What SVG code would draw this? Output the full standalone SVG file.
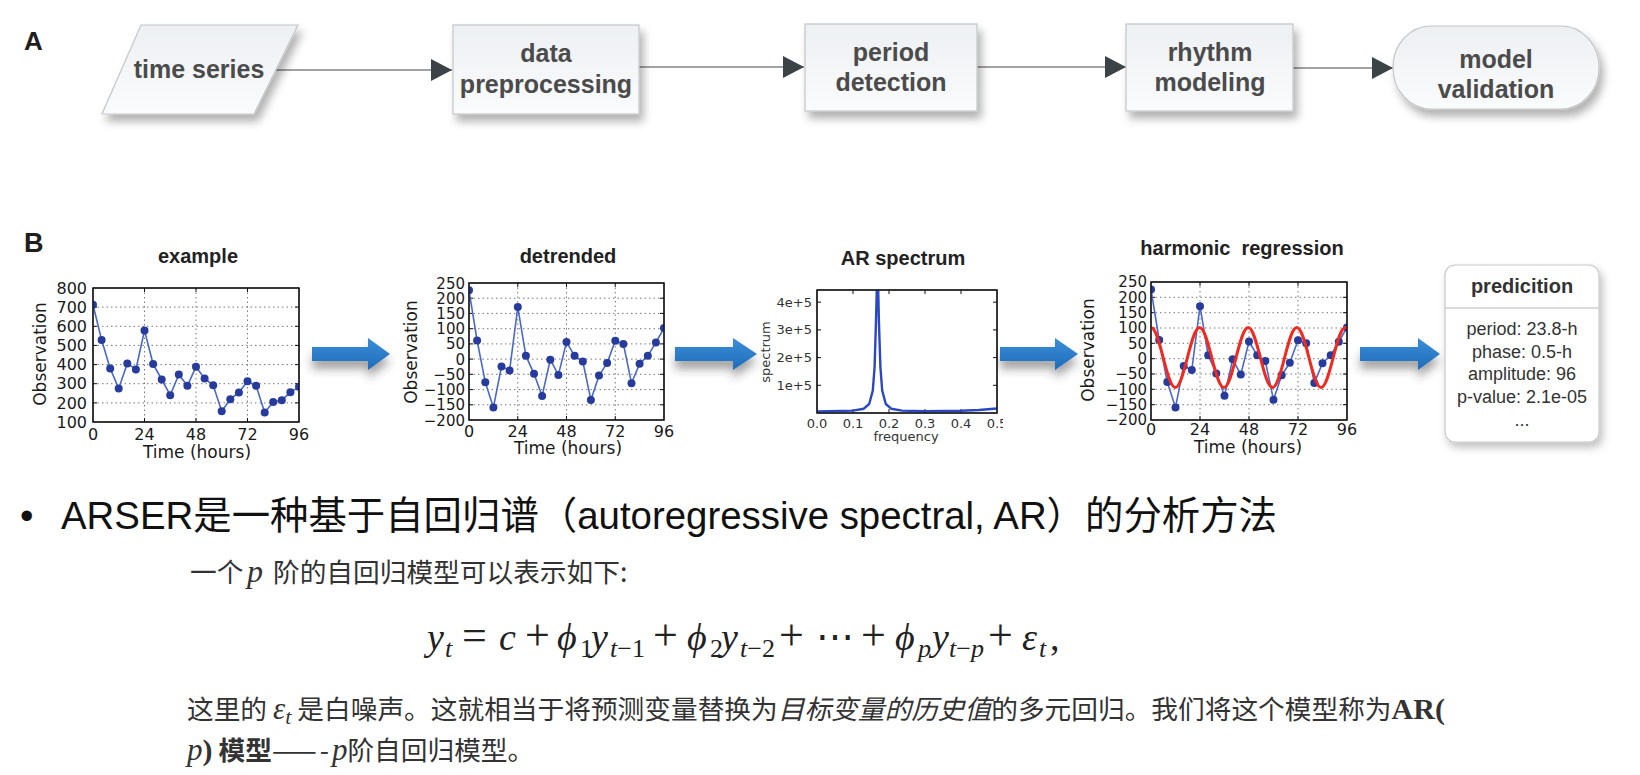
<svg xmlns="http://www.w3.org/2000/svg" width="1640" height="775" viewBox="0 0 1640 775">
<defs>
<style>
.nb{fill:url(#gBox);stroke:#c4c6c8;stroke-width:1.2;filter:url(#fShadow)}
.nl{font-family:"Liberation Sans",Arial,sans-serif;font-weight:bold;font-size:25px;fill:#4b4b4b;text-anchor:middle}
.pl{font-family:"Liberation Sans",Arial,sans-serif;font-weight:bold;fill:#1e1e1e}
.cn{fill:none;stroke:#a2a2a2;stroke-width:2;marker-end:url(#mHead)}
.ba{fill:url(#gBlue);filter:url(#fArrow)}
.fr{fill:#fff;stroke:#111;stroke-width:1.2}
.fo{fill:none;stroke:#111;stroke-width:1.2}
.gd{fill:none;stroke:#555;stroke-width:0.8;stroke-dasharray:1.5 3}
.tk{fill:none;stroke:#111;stroke-width:1}
.tl{font-family:"DejaVu Sans",sans-serif;font-size:16px;fill:#1a1a1a}
.tn{font-size:15px}
.te{text-anchor:end}
.tm{text-anchor:middle}
.al{font-family:"DejaVu Sans",sans-serif;font-size:17px;fill:#1a1a1a;text-anchor:middle}
.ts{font-family:"DejaVu Sans",sans-serif;font-size:13px;fill:#333}
.ct{font-family:"Liberation Sans",Arial,sans-serif;font-weight:bold;font-size:20px;fill:#222;text-anchor:middle}
.dl{fill:none;stroke:#4a68cc;stroke-width:1.6;stroke-linejoin:round}
.pt circle{fill:#273b9c}
.fit{fill:none;stroke:#f02a1e;stroke-width:3}
.sp{fill:none;stroke:#2b47c2;stroke-width:2.4;stroke-linejoin:round}
.pb{fill:#fff;stroke:#c8c8c8;stroke-width:1.2;filter:url(#fShadow2)}
.ph{font-family:"Liberation Sans",Arial,sans-serif;font-weight:bold;font-size:20px;fill:#333;text-anchor:middle}
.pv{font-family:"Liberation Sans",Arial,sans-serif;font-size:18px;fill:#333;text-anchor:middle}
.bl{font-family:"Liberation Sans","Noto Sans CJK SC",sans-serif;font-size:38.4px;fill:#111}
.bd{font-family:"Noto Sans CJK SC","Liberation Sans",sans-serif;font-size:26.7px;fill:#333}
.mi{font-family:"Liberation Serif","DejaVu Serif",serif;font-style:italic}
.mr{font-family:"Liberation Serif","DejaVu Serif",serif}
.op{font-size:44px}
.eq{font-family:"Liberation Serif","DejaVu Serif",serif;font-size:38px;fill:#222}
.eqs{font-family:"Liberation Serif","DejaVu Serif",serif;font-size:26px;fill:#222}
</style>
<linearGradient id="gBox" x1="0" y1="0" x2="0" y2="1">
<stop offset="0" stop-color="#edf0f3"/>
<stop offset="1" stop-color="#fafbfc"/>
</linearGradient>
<linearGradient id="gBlue" x1="0" y1="0" x2="0" y2="1">
<stop offset="0" stop-color="#3a8ed8"/>
<stop offset="1" stop-color="#1f6cb9"/>
</linearGradient>
<filter id="fShadow" x="-20%" y="-20%" width="150%" height="170%">
<feDropShadow dx="4" dy="7" stdDeviation="4" flood-color="#000" flood-opacity="0.3"/>
</filter>
<filter id="fShadow2" x="-20%" y="-20%" width="150%" height="150%">
<feDropShadow dx="3" dy="5" stdDeviation="4" flood-color="#000" flood-opacity="0.25"/>
</filter>
<filter id="fArrow" x="-30%" y="-50%" width="160%" height="250%">
<feDropShadow dx="0" dy="8" stdDeviation="5" flood-color="#333" flood-opacity="0.45"/>
</filter>
<marker id="mHead" markerUnits="userSpaceOnUse" markerWidth="22" markerHeight="24" refX="21" refY="11" orient="auto">
<path d="M0,0 L21,11 L0,22 Z" fill="#3b4347"/>
</marker>
<clipPath id="c1"><rect x="93" y="288" width="206" height="134"/></clipPath>
<clipPath id="c2"><rect x="469" y="283" width="195" height="137"/></clipPath>
<clipPath id="c3"><rect x="817" y="290" width="180" height="123"/></clipPath>
<clipPath id="c4"><rect x="1151" y="282" width="196" height="138"/></clipPath>
<clipPath id="cX"><rect x="700" y="400" width="303" height="40"/></clipPath>
</defs>

<rect width="1640" height="775" fill="#fff"/>

<g id="panel-labels">
<text class="pl" x="24" y="50" font-size="26">A</text>
<text class="pl" x="24" y="252" font-size="27">B</text>
</g>

<g id="connectors">
<line class="cn" x1="276" y1="70" x2="452" y2="70"/>
<line class="cn" x1="639" y1="67" x2="804" y2="67"/>
<line class="cn" x1="977" y1="67" x2="1126" y2="67"/>
<line class="cn" x1="1293" y1="68" x2="1393" y2="68"/>
<path class="ba" d="M312,347 H368 V338 L390,354 L368,370 V361 H312 Z"/>
<path class="ba" d="M675,347 H733 V338 L757,354 L733,370 V361 H675 Z"/>
<path class="ba" d="M1000,347 H1055 V338 L1078,354 L1055,370 V361 H1000 Z"/>
<path class="ba" d="M1360,347 H1418 V338 L1440,354 L1418,370 V361 H1360 Z"/>
</g>

<g id="node-time-series">
<polygon class="nb" points="141,25 298,25 254,114 102,114"/>
<text class="nl" x="199" y="78">time series</text>
</g>
<g id="node-data-preprocessing">
<rect class="nb" x="453" y="25" width="186" height="89"/>
<text class="nl" x="546" y="62">data</text>
<text class="nl" x="546" y="93">preprocessing</text>
</g>
<g id="node-period-detection">
<rect class="nb" x="805" y="24" width="172" height="87"/>
<text class="nl" x="891" y="61">period</text>
<text class="nl" x="891" y="91">detection</text>
</g>
<g id="node-rhythm-modeling">
<rect class="nb" x="1126" y="24" width="167" height="87"/>
<text class="nl" x="1210" y="61">rhythm</text>
<text class="nl" x="1210" y="91">modeling</text>
</g>
<g id="node-model-validation">
<rect class="nb" x="1393" y="26" width="206" height="83" rx="38" ry="41"/>
<text class="nl" x="1496" y="68">model</text>
<text class="nl" x="1496" y="98">validation</text>
</g>

<g id="chart-example">
<text class="ct" x="198" y="263">example</text>
<rect class="fr" x="93" y="288" width="206" height="134"/>
<path class="gd" d="M93,307.1H299M93,326.3H299M93,345.4H299M93,364.6H299M93,383.7H299M93,402.9H299M144.5,288V422M196,288V422M247.5,288V422"/>
<path class="tk" d="M93,307.1h4M93,326.3h4M93,345.4h4M93,364.6h4M93,383.7h4M93,402.9h4M299,307.1h-4M299,326.3h-4M299,345.4h-4M299,364.6h-4M299,383.7h-4M299,402.9h-4M144.5,288v4M196,288v4M247.5,288v4M144.5,422v-4M196,422v-4M247.5,422v-4"/>
<g clip-path="url(#c1)">
<polyline class="dl" points="93,304.8 101.6,339.9 110.2,368.4 118.7,388.5 127.3,363.4 135.9,369.4 144.5,330.5 153.1,364 161.7,379.5 170.2,395.2 178.8,374.5 187.4,385.8 196,366.7 204.6,378.5 213.2,385.2 221.7,411.3 230.3,399.2 238.9,392.5 247.5,381.2 256.1,385.8 264.7,412.6 273.2,401.9 281.8,400.2 290.4,392.3 299,386.8"/>
<g class="pt">
<circle cx="93" cy="304.8" r="4"/><circle cx="101.6" cy="339.9" r="4"/><circle cx="110.2" cy="368.4" r="4"/><circle cx="118.7" cy="388.5" r="4"/><circle cx="127.3" cy="363.4" r="4"/><circle cx="135.9" cy="369.4" r="4"/><circle cx="144.5" cy="330.5" r="4"/><circle cx="153.1" cy="364" r="4"/><circle cx="161.7" cy="379.5" r="4"/><circle cx="170.2" cy="395.2" r="4"/><circle cx="178.8" cy="374.5" r="4"/><circle cx="187.4" cy="385.8" r="4"/><circle cx="196" cy="366.7" r="4"/><circle cx="204.6" cy="378.5" r="4"/><circle cx="213.2" cy="385.2" r="4"/><circle cx="221.7" cy="411.3" r="4"/><circle cx="230.3" cy="399.2" r="4"/><circle cx="238.9" cy="392.5" r="4"/><circle cx="247.5" cy="381.2" r="4"/><circle cx="256.1" cy="385.8" r="4"/><circle cx="264.7" cy="412.6" r="4"/><circle cx="273.2" cy="401.9" r="4"/><circle cx="281.8" cy="400.2" r="4"/><circle cx="290.4" cy="392.3" r="4"/><circle cx="299" cy="386.8" r="4"/>
</g>
</g>
<rect class="fo" x="93" y="288" width="206" height="134"/>
<text class="tl te" x="87" y="293.7">800</text>
<text class="tl te" x="87" y="312.8">700</text>
<text class="tl te" x="87" y="332">600</text>
<text class="tl te" x="87" y="351.1">500</text>
<text class="tl te" x="87" y="370.3">400</text>
<text class="tl te" x="87" y="389.4">300</text>
<text class="tl te" x="87" y="408.6">200</text>
<text class="tl te" x="87" y="427.7">100</text>
<text class="tl tm" x="93" y="440">0</text>
<text class="tl tm" x="144.5" y="440">24</text>
<text class="tl tm" x="196" y="440">48</text>
<text class="tl tm" x="247.5" y="440">72</text>
<text class="tl tm" x="299" y="440">96</text>
<text class="al" transform="translate(46,354) rotate(-90)">Observation</text>
<text class="al" x="197" y="458">Time (hours)</text>
</g>

<g id="chart-detrended">
<text class="ct" x="568" y="263">detrended</text>
<rect class="fr" x="469" y="283" width="195" height="137"/>
<path class="gd" d="M469,298.2H664M469,313.4H664M469,328.7H664M469,343.9H664M469,359.1H664M469,374.3H664M469,389.6H664M469,404.8H664M517.75,283V420M566.5,283V420M615.25,283V420"/>
<path class="tk" d="M469,298.2h4M469,313.4h4M469,328.7h4M469,343.9h4M469,359.1h4M469,374.3h4M469,389.6h4M469,404.8h4M664,298.2h-4M664,313.4h-4M664,328.7h-4M664,343.9h-4M664,359.1h-4M664,374.3h-4M664,389.6h-4M664,404.8h-4M517.75,283v4M566.5,283v4M615.25,283v4M517.75,420v-4M566.5,420v-4M615.25,420v-4"/>
<g clip-path="url(#c2)">
<polyline class="dl" points="469,290.3 477.1,340.5 485.3,382.2 493.4,407.5 501.5,366.4 509.6,370.4 517.8,307.1 525.9,355.8 534,373.7 542.1,395.9 550.3,359.7 558.4,374.9 566.5,342.1 574.6,355.8 582.8,361.5 590.9,399.9 599,375.6 607.1,363.1 615.3,340.8 623.4,343.9 631.5,383.2 639.6,363.7 647.8,355.8 655.9,342.4 664,328.1"/>
<g class="pt">
<circle cx="469" cy="290.3" r="4"/><circle cx="477.1" cy="340.5" r="4"/><circle cx="485.3" cy="382.2" r="4"/><circle cx="493.4" cy="407.5" r="4"/><circle cx="501.5" cy="366.4" r="4"/><circle cx="509.6" cy="370.4" r="4"/><circle cx="517.8" cy="307.1" r="4"/><circle cx="525.9" cy="355.8" r="4"/><circle cx="534" cy="373.7" r="4"/><circle cx="542.1" cy="395.9" r="4"/><circle cx="550.3" cy="359.7" r="4"/><circle cx="558.4" cy="374.9" r="4"/><circle cx="566.5" cy="342.1" r="4"/><circle cx="574.6" cy="355.8" r="4"/><circle cx="582.8" cy="361.5" r="4"/><circle cx="590.9" cy="399.9" r="4"/><circle cx="599" cy="375.6" r="4"/><circle cx="607.1" cy="363.1" r="4"/><circle cx="615.3" cy="340.8" r="4"/><circle cx="623.4" cy="343.9" r="4"/><circle cx="631.5" cy="383.2" r="4"/><circle cx="639.6" cy="363.7" r="4"/><circle cx="647.8" cy="355.8" r="4"/><circle cx="655.9" cy="342.4" r="4"/><circle cx="664" cy="328.1" r="4"/>
</g>
</g>
<rect class="fo" x="469" y="283" width="195" height="137"/>
<text class="tl tn te" x="465" y="288.5">250</text>
<text class="tl tn te" x="465" y="303.7">200</text>
<text class="tl tn te" x="465" y="318.9">150</text>
<text class="tl tn te" x="465" y="334.2">100</text>
<text class="tl tn te" x="465" y="349.4">50</text>
<text class="tl tn te" x="465" y="364.6">0</text>
<text class="tl tn te" x="465" y="379.8">−50</text>
<text class="tl tn te" x="465" y="395.1">−100</text>
<text class="tl tn te" x="465" y="410.3">−150</text>
<text class="tl tn te" x="465" y="425.5">−200</text>
<text class="tl tm" x="469" y="437">0</text>
<text class="tl tm" x="517.75" y="437">24</text>
<text class="tl tm" x="566.5" y="437">48</text>
<text class="tl tm" x="615.25" y="437">72</text>
<text class="tl tm" x="664" y="437">96</text>
<text class="al" transform="translate(417,352) rotate(-90)">Observation</text>
<text class="al" x="568" y="454">Time (hours)</text>
</g>

<g id="chart-ar-spectrum">
<text class="ct" x="903" y="265">AR spectrum</text>
<rect class="fr" x="817" y="290" width="180" height="123"/>
<path class="tk" d="M817,302.2h4M817,329.9h4M817,357.6h4M817,385.3h4M997,302.2h-4M997,329.9h-4M997,357.6h-4M997,385.3h-4M853,290v4M889,290v4M925,290v4M961,290v4M853,413v-4M889,413v-4M925,413v-4M961,413v-4"/>
<g clip-path="url(#c3)">
<polyline class="sp" points="817,411.5 853,410.6 863.8,408.7 869.2,404 872.8,390.5 874.6,367 876,321 876.8,289.5 877.5,274.5 878.2,289.5 878.9,321 880.4,367 882.2,390.5 885.8,404 891.2,408.7 902,410.6 925,411.2 961,410.8 979,410 997,408.5"/>
</g>
<rect class="fo" x="817" y="290" width="180" height="123"/>
<text class="ts te" x="812" y="306.7">4e+5</text>
<text class="ts te" x="812" y="334.4">3e+5</text>
<text class="ts te" x="812" y="362.1">2e+5</text>
<text class="ts te" x="812" y="389.8">1e+5</text>
<text class="ts tm" x="817" y="428">0.0</text>
<text class="ts tm" x="853" y="428">0.1</text>
<text class="ts tm" x="889" y="428">0.2</text>
<text class="ts tm" x="925" y="428">0.3</text>
<text class="ts tm" x="961" y="428">0.4</text>
<text class="ts tm" x="997" y="428" clip-path="url(#cX)">0.5</text>
<text class="ts tm" transform="translate(770,352) rotate(-90)">spectrum</text>
<text class="ts tm" x="906" y="441">frequency</text>
</g>

<g id="chart-harmonic-regression">
<text class="ct" x="1242" y="255" xml:space="preserve">harmonic  regression</text>
<rect class="fr" x="1151" y="282" width="196" height="138"/>
<path class="gd" d="M1151,297.3H1347M1151,312.7H1347M1151,328H1347M1151,343.3H1347M1151,358.7H1347M1151,374H1347M1151,389.3H1347M1151,404.7H1347M1200,282V420M1249,282V420M1298,282V420"/>
<path class="tk" d="M1151,297.3h4M1151,312.7h4M1151,328h4M1151,343.3h4M1151,358.7h4M1151,374h4M1151,389.3h4M1151,404.7h4M1347,297.3h-4M1347,312.7h-4M1347,328h-4M1347,343.3h-4M1347,358.7h-4M1347,374h-4M1347,389.3h-4M1347,404.7h-4M1200,282v4M1249,282v4M1298,282v4M1200,420v-4M1249,420v-4M1298,420v-4"/>
<g clip-path="url(#c4)">
<polyline class="dl" points="1151,289.4 1159.2,340 1167.3,382 1175.5,407.4 1183.7,366 1191.8,370 1200,306.2 1208.2,355.3 1216.3,373.4 1224.5,395.8 1232.7,359.3 1240.8,374.6 1249,341.5 1257.2,355.3 1265.3,361.1 1273.5,399.8 1281.7,375.2 1289.8,362.7 1298,340.3 1306.2,343.3 1314.3,382.9 1322.5,363.3 1330.7,355.3 1338.8,341.8 1347,327.4"/>
<g class="pt">
<circle cx="1151" cy="289.4" r="4"/><circle cx="1159.2" cy="340" r="4"/><circle cx="1167.3" cy="382" r="4"/><circle cx="1175.5" cy="407.4" r="4"/><circle cx="1183.7" cy="366" r="4"/><circle cx="1191.8" cy="370" r="4"/><circle cx="1200" cy="306.2" r="4"/><circle cx="1208.2" cy="355.3" r="4"/><circle cx="1216.3" cy="373.4" r="4"/><circle cx="1224.5" cy="395.8" r="4"/><circle cx="1232.7" cy="359.3" r="4"/><circle cx="1240.8" cy="374.6" r="4"/><circle cx="1249" cy="341.5" r="4"/><circle cx="1257.2" cy="355.3" r="4"/><circle cx="1265.3" cy="361.1" r="4"/><circle cx="1273.5" cy="399.8" r="4"/><circle cx="1281.7" cy="375.2" r="4"/><circle cx="1289.8" cy="362.7" r="4"/><circle cx="1298" cy="340.3" r="4"/><circle cx="1306.2" cy="343.3" r="4"/><circle cx="1314.3" cy="382.9" r="4"/><circle cx="1322.5" cy="363.3" r="4"/><circle cx="1330.7" cy="355.3" r="4"/><circle cx="1338.8" cy="341.8" r="4"/><circle cx="1347" cy="327.4" r="4"/>
</g>
<path class="fit" d="M1151,327.5 C1155.40,327.5 1159.19,342.13 1163.15,357.5 C1167.11,372.87 1170.90,387.5 1175.30,387.5 C1179.70,387.5 1183.49,372.87 1187.45,357.5 C1191.41,342.13 1195.20,327.5 1199.60,327.5 C1204.00,327.5 1207.79,342.13 1211.74,357.5 C1215.70,372.87 1219.49,387.5 1223.89,387.5 C1228.29,387.5 1232.08,372.87 1236.04,357.5 C1240.00,342.13 1243.79,327.5 1248.19,327.5 C1252.59,327.5 1256.38,342.13 1260.33,357.5 C1264.29,372.87 1268.08,387.5 1272.48,387.5 C1276.88,387.5 1280.67,372.87 1284.63,357.5 C1288.59,342.13 1292.38,327.5 1296.78,327.5 C1301.18,327.5 1304.97,342.13 1308.92,357.5 C1312.88,372.87 1316.67,387.5 1321.07,387.5 C1325.47,387.5 1329.26,372.87 1333.22,357.5 C1337.18,342.13 1340.97,327.5 1345.37,327.5 L1347,327.6"/>
</g>
<rect class="fo" x="1151" y="282" width="196" height="138"/>
<text class="tl tn te" x="1147" y="287.4">250</text>
<text class="tl tn te" x="1147" y="302.7">200</text>
<text class="tl tn te" x="1147" y="318.1">150</text>
<text class="tl tn te" x="1147" y="333.4">100</text>
<text class="tl tn te" x="1147" y="348.7">50</text>
<text class="tl tn te" x="1147" y="364.1">0</text>
<text class="tl tn te" x="1147" y="379.4">−50</text>
<text class="tl tn te" x="1147" y="394.7">−100</text>
<text class="tl tn te" x="1147" y="410.1">−150</text>
<text class="tl tn te" x="1147" y="425.4">−200</text>
<text class="tl tm" x="1151" y="435">0</text>
<text class="tl tm" x="1200" y="435">24</text>
<text class="tl tm" x="1249" y="435">48</text>
<text class="tl tm" x="1298" y="435">72</text>
<text class="tl tm" x="1347" y="435">96</text>
<text class="al" transform="translate(1094,350) rotate(-90)">Observation</text>
<text class="al" x="1248" y="453">Time (hours)</text>
</g>

<g id="node-prediction">
<rect class="pb" x="1445" y="265" width="154" height="177" rx="10"/>
<line x1="1445" y1="308" x2="1599" y2="308" stroke="#b8b8b8" stroke-width="1.2"/>
<text class="ph" x="1522" y="293">predicition</text>
<text class="pv" x="1522" y="335">period: 23.8-h</text>
<text class="pv" x="1522" y="358">phase: 0.5-h</text>
<text class="pv" x="1522" y="380">amplitude: 96</text>
<text class="pv" x="1522" y="403">p-value: 2.1e-05</text>
<text class="pv" x="1522" y="426">...</text>
</g>

<g id="text-notes">
<text class="bl" x="20" y="529">•</text>
<text class="bl" x="61" y="529">ARSER是一种基于自回归谱（autoregressive spectral, AR）的分析方法</text>
<text class="bd" y="582"><tspan x="190">一个</tspan><tspan class="mi" x="247" font-size="32">p</tspan><tspan x="273">阶的自回归模型可以表示如下:</tspan></text>
<text class="eq" y="650"><tspan class="mi" x="427">y</tspan><tspan class="op" x="462">=</tspan><tspan class="mi" x="499">c</tspan><tspan class="op" x="525">+</tspan><tspan class="mi" x="557">ϕ</tspan><tspan class="mi" x="591">y</tspan><tspan class="op" x="653">+</tspan><tspan class="mi" x="687">ϕ</tspan><tspan class="mi" x="721">y</tspan><tspan class="op" x="779">+</tspan><tspan x="816">⋯</tspan><tspan class="op" x="861">+</tspan><tspan class="mi" x="895">ϕ</tspan><tspan class="mi" x="932">y</tspan><tspan class="op" x="988">+</tspan><tspan class="mi" x="1022">ε</tspan><tspan x="1050">,</tspan></text>
<text class="eqs" y="657"><tspan class="mi" x="445">t</tspan><tspan x="580">1</tspan><tspan class="mi" x="610">t</tspan><tspan>−1</tspan><tspan x="710">2</tspan><tspan class="mi" x="740">t</tspan><tspan>−2</tspan><tspan class="mi" x="918">p</tspan><tspan class="mi" x="949">t</tspan><tspan>−</tspan><tspan class="mi">p</tspan><tspan class="mi" x="1039">t</tspan></text>
<text class="bd" x="187" y="719">这里的 <tspan class="mi" font-size="31">ε</tspan><tspan class="mi" font-size="22" dy="5">t</tspan><tspan dy="-5"> 是白噪声。这就相当于将预测变量替换为</tspan><tspan font-style="italic">目标变量的历史值</tspan>的多元回归。我们将这个模型称为<tspan class="mr" font-weight="bold" font-size="30">AR(</tspan></text>
<text class="bd" x="187" y="760"><tspan class="mi" font-size="31">p</tspan><tspan class="mr" font-weight="bold" font-size="30">)</tspan><tspan font-weight="bold"> 模型</tspan><tspan letter-spacing="3">——-</tspan><tspan class="mi" font-size="31">p</tspan>阶自回归模型。</text>
</g>
</svg>
